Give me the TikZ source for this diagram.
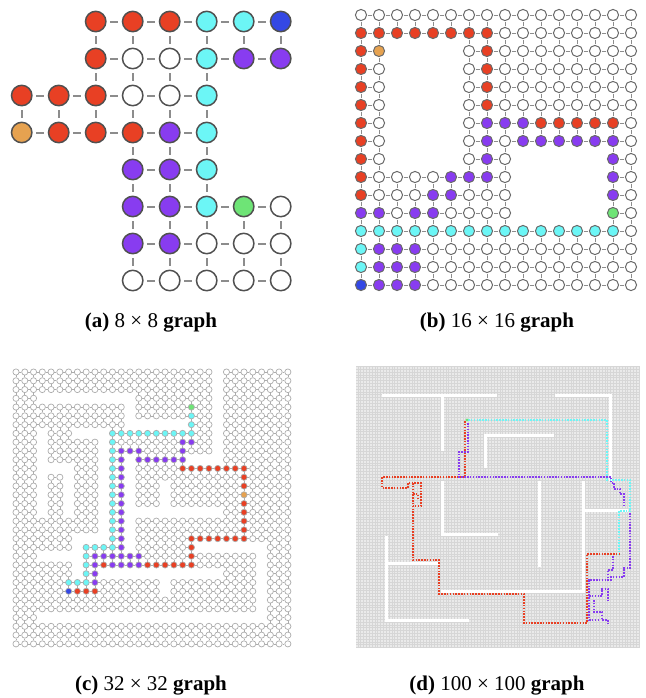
\documentclass[tikz,border=0pt]{standalone}
\usepackage{fontspec}
\setmainfont{Liberation Serif}
\usepackage{xcolor}
\usepackage{tikz}
\usetikzlibrary{calc,positioning}
\definecolor{pathred}{RGB}{232,64,36}
\definecolor{pathcyan}{RGB}{108,246,246}
\definecolor{pathpurple}{RGB}{136,60,240}
\definecolor{pathblue}{RGB}{52,72,228}
\definecolor{pathorange}{RGB}{230,162,80}
\definecolor{pathgreen}{RGB}{110,228,118}
\definecolor{nodeline}{RGB}{80,80,80}
\definecolor{edgegray}{RGB}{140,140,140}
\definecolor{meshgray}{RGB}{234,234,234}
\definecolor{meshline}{RGB}{214,214,214}

% grid rows: one letter per cell, '.' = removed cell
\makeatletter
\newcount\gr@col
\newcommand\setgrid[4]{\def\gr@panel{#1}\def\gr@xo{#2}\def\gr@yo{#3}\def\gr@st{#4}}
\newcommand\gridrow[2]{\def\gr@row{#1}\gr@col=0 \gr@scan#2\relax}
\def\gr@scan#1{%
  \ifx#1\relax\else
    \if#1.\else\gr@cell{#1}\fi
    \advance\gr@col by 1
    \expandafter\gr@scan
  \fi}
\def\gr@cell#1{%
  \expandafter\xdef\csname gc@\gr@panel @\gr@row @\the\gr@col\endcsname{#1}%
  \pgfmathsetmacro\gr@x{\gr@xo+\the\gr@col*\gr@st}%
  \pgfmathsetmacro\gr@y{\gr@yo+\gr@row*\gr@st}%
  \edef\gr@name{\gr@panel-\gr@row-\the\gr@col}%
  \edef\gr@left{\gr@panel-\gr@row-\the\numexpr\gr@col-1\relax}%
  \edef\gr@up{\gr@panel-\the\numexpr\gr@row-1\relax-\the\gr@col}%
  \edef\gr@do{\noexpand\node[\gr@panel node, cell #1] (\gr@name) at (\gr@x,\gr@y) {};}\gr@do
  \ifcsname gc@\gr@panel @\gr@row @\the\numexpr\gr@col-1\relax\endcsname
    \edef\gr@do{\noexpand\draw[\gr@panel edge] (\gr@left) -- (\gr@name);}\gr@do
  \fi
  \ifcsname gc@\gr@panel @\the\numexpr\gr@row-1\relax @\the\gr@col\endcsname
    \edef\gr@do{\noexpand\draw[\gr@panel edge] (\gr@up) -- (\gr@name);}\gr@do
  \fi}
\makeatother

\begin{document}
\begin{tikzpicture}[
    x=0.5pt, y=-0.5pt,
    anode/.style={circle, draw=nodeline, line width=0.75pt, minimum size=10.2pt, inner sep=0pt, outer sep=0pt},
    aedge/.style={draw=edgegray, line width=1pt, shorten <=2.2pt, shorten >=2.2pt},
    bnode/.style={circle, draw=nodeline!85, line width=0.5pt, minimum size=5.6pt, inner sep=0pt, outer sep=0pt},
    bedge/.style={draw=edgegray, line width=0.5pt, shorten <=0.7pt, shorten >=0.7pt},
    cnode/.style={circle, draw=gray!65, line width=0.35pt, minimum size=3.1pt, inner sep=0pt, outer sep=0pt},
    cedge/.style={draw=gray!65, line width=0.3pt, shorten <=0.15pt, shorten >=0.15pt},
    cell w/.style={fill=white},
    cell r/.style={fill=pathred},
    cell c/.style={fill=pathcyan},
    cell p/.style={fill=pathpurple},
    cell b/.style={fill=pathblue},
    cell o/.style={fill=pathorange},
    cell g/.style={fill=pathgreen},
    dwall/.style={white, line width=1.5pt},
    dpath/.style={line width=1.1pt, dash pattern=on 0.8pt off 0.62pt},
    caption/.style={font=\fontsize{10.5}{12}\selectfont, inner sep=0pt}
  ]
  \useasboundingbox (0,0) rectangle (646,698);

  % (a) 8 x 8
  \setgrid{a}{21.7}{21.5}{37}
  \gridrow{0}{..rrrccb}
  \gridrow{1}{..rwwcpp}
  \gridrow{2}{rrrwwc..}
  \gridrow{3}{orrrpc..}
  \gridrow{4}{...ppc..}
  \gridrow{5}{...ppcgw}
  \gridrow{6}{...ppwww}
  \gridrow{7}{...wwwww}

  % (b) 16 x 16
  \setgrid{b}{361}{15}{18}
  \gridrow{0}{wwwwwwww wwwwwwww}
  \gridrow{1}{rrrrrrrr wwwwwwww}
  \gridrow{2}{ro....wr wwwwwwww}
  \gridrow{3}{rw....wr wwwwwwww}
  \gridrow{4}{rw....wr wwwwwwww}
  \gridrow{5}{rw....wr wwwwwwww}
  \gridrow{6}{rw....wp pprrrrrw}
  \gridrow{7}{rw....wp wppppppw}
  \gridrow{8}{rw....wp w.....pw}
  \gridrow{9}{rwwwwppp w.....pw}
  \gridrow{10}{rwwwppww w.....pw}
  \gridrow{11}{ppwppwww w.....gw}
  \gridrow{12}{cccccccc cccccccw}
  \gridrow{13}{cpppwwww wwwwwwww}
  \gridrow{14}{cpppwwww wwwwwwww}
  \gridrow{15}{bpppwwww wwwwwwww}

  % (c) 32 x 32
  \setgrid{c}{16}{372}{8.77}
  \gridrow{0}{wwwwwwwwww wwwwwwwwww www . wwwwwwww}
  \gridrow{1}{wwwwwwwwww wwwwwwwwww www . wwwwwwww}
  \gridrow{2}{wwwwwwwwww wwwwwwwwww www . wwwwwwww}
  \gridrow{3}{www ..... ...... wwwwwwwww . wwwwwwww}
  \gridrow{4}{wwwwwwwwwwwww . wwwwww g ww . wwwwwwww}
  \gridrow{5}{wwwwwwwwwwwww . wwwwww c ww . wwwwwwww}
  \gridrow{6}{wwwwwwwwwwwww ....... c ww . wwwwwwww}
  \gridrow{7}{www . www .... cccccccccc ww . wwwwwwww}
  \gridrow{8}{www . wwwwww . c wwwwwww pp ww . wwwwwwww}
  \gridrow{9}{www . wwwwww . c ppp wwww p www . wwwwwwww}
  \gridrow{10}{www . wwwwww . c p . pppppp .... wwwwwwww}
  \gridrow{11}{www .... www . c p . wwwww rrrrrrrr wwwww}
  \gridrow{12}{www . ww . www . c p . wwwwwwwwwwww r wwwww}
  \gridrow{13}{www . ww . www . c p . www . wwwwwwww r wwwww}
  \gridrow{14}{www . ww . www . c p . www . wwwwwwww o wwwww}
  \gridrow{15}{www . ww . www . c p . www . wwwwwwww r wwwww}
  \gridrow{16}{www . ww . www . c p ..... ...... ww r wwwww}
  \gridrow{17}{wwwwwwwwww . c p . wwwwwwwwwwww r wwwww}
  \gridrow{18}{wwwwwwwwww . c p . wwwwwwwwwwww r wwwww}
  \gridrow{19}{wwwwwww .... c p . wwwwww rrrrrrr wwwww}
  \gridrow{20}{wwwwwww . cccc p . wwwwww r ........ www}
  \gridrow{21}{www ..... c pppppp wwwww r wwwwwww . www}
  \gridrow{22}{wwwwwww . c p r pppp rrrrrr wwwwwww . www}
  \gridrow{23}{wwwwwww . c p ....... ....... wwww . www}
  \gridrow{24}{wwwwww ccc p wwwwwww . wwwwwwwwww . www}
  \gridrow{25}{wwwwww b rrr wwwwwww . wwwwwwwwww . www}
  \gridrow{26}{wwwwwwwwww wwwwwwwwww wwwwwwww . www}
  \gridrow{27}{wwwwwwwwww wwwwwwwwww wwwwwwww . www}
  \gridrow{28}{www .......... .......... ...... www}
  \gridrow{29}{wwwwwwwwww wwwwwwwwww wwwwwwwwww ww}
  \gridrow{30}{wwwwwwwwww wwwwwwwwww wwwwwwwwww ww}
  \gridrow{31}{wwwwwwwwww wwwwwwwwww wwwwwwwwww ww}

  % (d) 100 x 100
  \fill[meshgray] (356,366) rectangle (640,648);
  \draw[meshline, line width=0.3pt, step=1.42pt] (356,366) grid (640,648);
  \draw[dwall] (382,395) -- (497,395);
  \draw[dwall] (555,395) -- (610,395) -- (610,481);
  \draw[dwall] (442,395) -- (442,451);
  \draw[dwall] (485,468) -- (485,435) -- (554,435);
  \draw[dwall] (442,481) -- (442,534) -- (498,534);
  \draw[dwall] (386,536) -- (386,620) -- (469,620);
  \draw[dwall] (386,563) -- (439,563);
  \draw[dwall] (539,481) -- (539,567);
  \draw[dwall] (583,481) -- (583,591) -- (441,591);
  \draw[dwall] (583,510) -- (628,510);
  \draw[dpath, pathcyan] (468,420) -- (607,420) -- (607,480) -- (630,480) -- (630,511) -- (619,511) -- (619,554);
  \draw[dpath, pathred] (465,421) -- (465,477) -- (382,477) -- (382,488) -- (408,488) -- (408,483) -- (421,483) -- (421,506) -- (413,506);
  \draw[dpath, pathred] (413,494) -- (418,494) -- (418,500);
  \draw[dpath, pathred] (413,483) -- (413,560) -- (439,560) -- (439,594) -- (524,594) -- (524,623) -- (587,623) -- (587,554) -- (619,554);
  \draw[dpath, pathpurple] (468,423) -- (468,452) -- (459,452) -- (459,477) -- (611,477) -- (611,483) -- (614,483) -- (614,489) -- (620,489) -- (620,494) -- (624,494) -- (624,505);
  \draw[dpath, pathpurple] (630,513) -- (630,568) -- (624,568) -- (624,577) -- (611,577) -- (611,580) -- (589,580) -- (589,620);
  \draw[dpath, pathpurple] (613,556) -- (613,570) -- (608,570) -- (608,580);
  \draw[dpath, pathpurple] (589,596) -- (602,596) -- (602,589) -- (608,589) -- (608,600);
  \draw[dpath, pathpurple] (594,600) -- (594,612) -- (602,612) -- (602,620) -- (608,620) -- (608,623);
  \draw[dpath, pathpurple] (589,620) -- (598,620);
  \fill[pathgreen] (467,420) circle (1.6);

  \node[caption] (cap-a) at (151,323) {\textbf{(a)} 8 × 8 \textbf{graph}};
  \node[caption] (cap-b) at (497,323) {\textbf{(b)} 16 × 16 \textbf{graph}};
  \node[caption] (cap-c) at (151,686) {\textbf{(c)} 32 × 32 \textbf{graph}};
  \node[caption] (cap-d) at (497,686) {\textbf{(d)} 100 × 100 \textbf{graph}};
\end{tikzpicture}
\end{document}
